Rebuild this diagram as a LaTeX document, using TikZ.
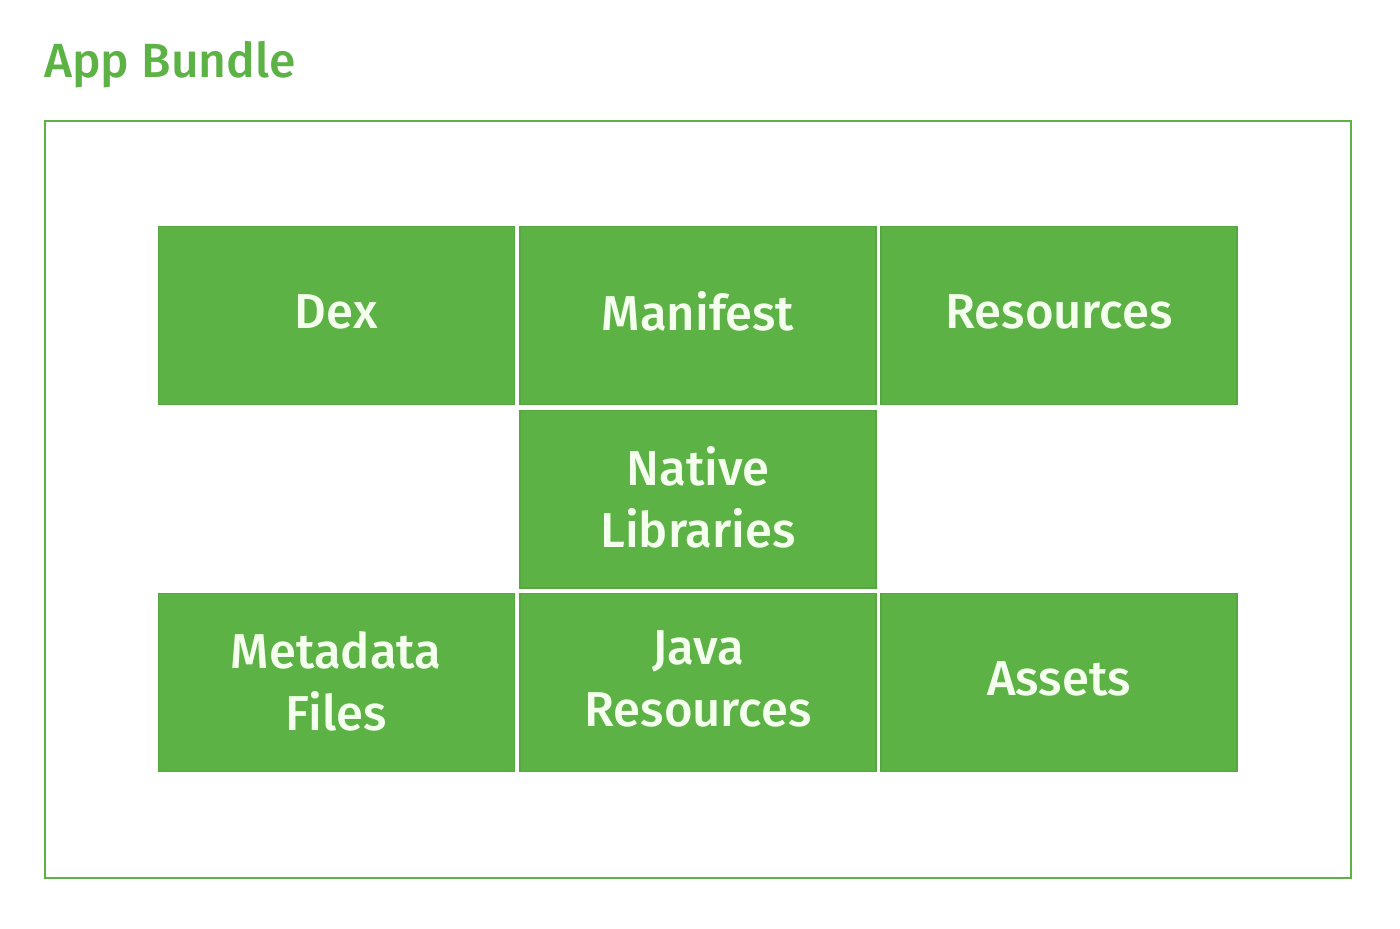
\documentclass[tikz,border=0pt]{standalone}
\usepackage{fontspec}
\setmainfont{Fira Sans}[UprightFont=* Medium]
\definecolor{bgreen}{HTML}{5DB246}
\definecolor{bedge}{HTML}{55A83F}
\definecolor{btext}{HTML}{F4FFEE}
\begin{document}
\begin{tikzpicture}[x=0.5pt,y=-0.5pt,
  part/.style={draw=bedge,line width=0.6pt,fill=bgreen,text=btext,
    minimum width=178pt,minimum height=88.8pt,
    font=\fontsize{24.5pt}{31pt}\selectfont,align=center,inner sep=0pt},
  lbl/.style={text=btext,font=\fontsize{24.5pt}{31pt}\selectfont,align=center,inner sep=0pt}]
\useasboundingbox (0,0) rectangle (1400,929);
\node[anchor=base west,text=bgreen,font=\fontsize{24pt}{31pt}\selectfont,inner sep=0pt] (title) at (44,78) {App Bundle};
\draw[bgreen,line width=1pt] (44.5,121) rectangle (1351,878);
\node[part] (dex) at (336.25,315.5) {};
\node[part] (man) at (698,315.5) {};
\node[part] (res) at (1059,315.5) {};
\node[part] (nat) at (698,499.25) {};
\node[part] (meta) at (336.25,682.5) {};
\node[part] (java) at (698,682.5) {};
\node[part] (ass) at (1059,682.5) {};
\node[lbl] (tdex) at ([yshift=2pt]dex.center) {Dex};
\node[lbl] (tman) at ([yshift=2pt]man.center) {Manifest};
\node[lbl] (tres) at ([yshift=2pt]res.center) {Resources};
\node[lbl] (tnat) at ([yshift=1pt]nat.center) {Native\\Libraries};
\node[lbl] (tmeta) at ([yshift=0.5pt]meta.center) {Metadata\\Files};
\node[lbl] (tjava) at ([yshift=2pt]java.center) {Java\\Resources};
\node[lbl] (tass) at ([yshift=2pt]ass.center) {Assets};
\end{tikzpicture}
\end{document}
